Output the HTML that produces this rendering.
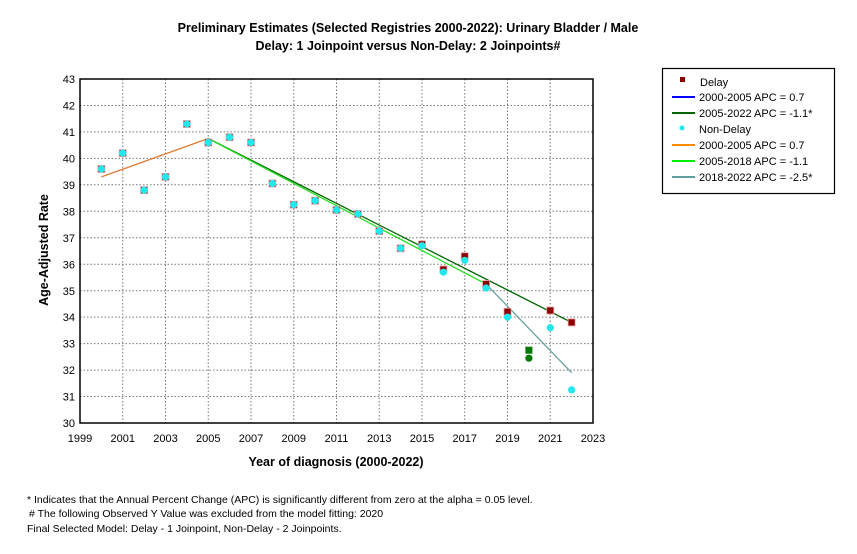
<!DOCTYPE html>
<html><head><meta charset="utf-8"><style>
body{margin:0;background:#fff}
svg{display:block;font-family:"Liberation Sans",sans-serif}
</style></head><body>
<svg width="857" height="554" viewBox="0 0 857 554">
<rect width="857" height="554" fill="#fff"/>
<text x="408" y="32" font-size="12.5" font-weight="bold" text-anchor="middle">Preliminary Estimates (Selected Registries 2000-2022): Urinary Bladder / Male</text>
<text x="408" y="50" font-size="12.5" font-weight="bold" text-anchor="middle">Delay: 1 Joinpoint  versus  Non-Delay: 2 Joinpoints#</text>
<g stroke="#777" stroke-width="1" stroke-dasharray="1.5,2">
<line x1="122.75" y1="79" x2="122.75" y2="423"/><line x1="165.5" y1="79" x2="165.5" y2="423"/><line x1="208.25" y1="79" x2="208.25" y2="423"/><line x1="251" y1="79" x2="251" y2="423"/><line x1="293.75" y1="79" x2="293.75" y2="423"/><line x1="336.5" y1="79" x2="336.5" y2="423"/><line x1="379.25" y1="79" x2="379.25" y2="423"/><line x1="422" y1="79" x2="422" y2="423"/><line x1="464.75" y1="79" x2="464.75" y2="423"/><line x1="507.5" y1="79" x2="507.5" y2="423"/><line x1="550.25" y1="79" x2="550.25" y2="423"/>
<line x1="80" y1="105.5" x2="593" y2="105.5"/><line x1="80" y1="131.9" x2="593" y2="131.9"/><line x1="80" y1="158.4" x2="593" y2="158.4"/><line x1="80" y1="184.8" x2="593" y2="184.8"/><line x1="80" y1="211.3" x2="593" y2="211.3"/><line x1="80" y1="237.8" x2="593" y2="237.8"/><line x1="80" y1="264.2" x2="593" y2="264.2"/><line x1="80" y1="290.7" x2="593" y2="290.7"/><line x1="80" y1="317.1" x2="593" y2="317.1"/><line x1="80" y1="343.6" x2="593" y2="343.6"/><line x1="80" y1="370.1" x2="593" y2="370.1"/><line x1="80" y1="396.5" x2="593" y2="396.5"/>
</g>
<rect x="80" y="79" width="513" height="344" fill="none" stroke="#000" stroke-width="1.5"/>
<g font-size="11" text-anchor="end">
<text x="75" y="83">43</text><text x="75" y="109.5">42</text><text x="75" y="136">41</text><text x="75" y="162.5">40</text><text x="75" y="189">39</text><text x="75" y="215.5">38</text><text x="75" y="242">37</text><text x="75" y="268.5">36</text><text x="75" y="295">35</text><text x="75" y="321">34</text><text x="75" y="347.5">33</text><text x="75" y="374">32</text><text x="75" y="400.5">31</text><text x="75" y="427">30</text>
</g>
<g font-size="11" text-anchor="middle">
<text x="80" y="442">1999</text><text x="122.75" y="442">2001</text><text x="165.5" y="442">2003</text><text x="208.25" y="442">2005</text><text x="251" y="442">2007</text><text x="293.75" y="442">2009</text><text x="336.5" y="442">2011</text><text x="379.25" y="442">2013</text><text x="422" y="442">2015</text><text x="464.75" y="442">2017</text><text x="507.5" y="442">2019</text><text x="550.25" y="442">2021</text><text x="593" y="442">2023</text>
</g>
<text x="336" y="466" font-size="12.5" font-weight="bold" text-anchor="middle">Year of diagnosis (2000-2022)</text>
<text transform="translate(48,250) rotate(-90)" font-size="12.5" font-weight="bold" text-anchor="middle">Age-Adjusted Rate</text>
<!-- lines -->
<line x1="101.4" y1="176.9" x2="208.25" y2="138.5" stroke="#e07a30" stroke-width="1.3"/>
<line x1="208.25" y1="138.5" x2="571.6" y2="322.4" stroke="#006400" stroke-width="1.3"/>
<line x1="208.25" y1="138.5" x2="486.1" y2="284.1" stroke="#22dd22" stroke-width="1.3"/>
<line x1="486.1" y1="284.1" x2="571.6" y2="372.7" stroke="#6aa0a0" stroke-width="1.3"/>
<!-- delay squares -->
<g fill="#8b0000" stroke="#e9a0a0" stroke-width="0.8">
<rect x="97.9" y="165.5" width="7" height="7"/><rect x="119.25" y="149.6" width="7" height="7"/><rect x="140.6" y="186.6" width="7" height="7"/><rect x="162" y="173.4" width="7" height="7"/><rect x="183.4" y="120.5" width="7" height="7"/><rect x="204.75" y="139" width="7" height="7"/><rect x="226.1" y="133.7" width="7" height="7"/><rect x="247.5" y="139" width="7" height="7"/><rect x="268.9" y="180" width="7" height="7"/><rect x="290.25" y="201.2" width="7" height="7"/><rect x="311.6" y="197.2" width="7" height="7"/><rect x="333" y="206.5" width="7" height="7"/><rect x="354.4" y="210.5" width="7" height="7"/><rect x="375.75" y="227.6" width="7" height="7"/><rect x="397.1" y="244.8" width="7" height="7"/><rect x="418.5" y="240.9" width="7" height="7"/><rect x="439.9" y="266" width="7" height="7"/><rect x="461.25" y="252.8" width="7" height="7"/><rect x="482.6" y="280.6" width="7" height="7"/><rect x="504" y="308.3" width="7" height="7"/><rect x="546.75" y="307" width="7" height="7"/><rect x="568.1" y="318.9" width="7" height="7"/>
</g>
<rect x="525.4" y="346.7" width="7" height="7" fill="#007a00"/>
<circle cx="528.9" cy="358.2" r="3.6" fill="#007a00"/>
<g fill="#22e8ee">
<circle cx="101.4" cy="169" r="3.6"/><circle cx="122.75" cy="153.1" r="3.6"/><circle cx="144.1" cy="190.1" r="3.6"/><circle cx="165.5" cy="176.9" r="3.6"/><circle cx="186.9" cy="124" r="3.6"/><circle cx="208.25" cy="142.5" r="3.6"/><circle cx="229.6" cy="137.2" r="3.6"/><circle cx="251" cy="142.5" r="3.6"/><circle cx="272.4" cy="183.5" r="3.6"/><circle cx="293.75" cy="204.7" r="3.6"/><circle cx="315.1" cy="200.7" r="3.6"/><circle cx="336.5" cy="210" r="3.6"/><circle cx="357.9" cy="214" r="3.6"/><circle cx="379.25" cy="231.1" r="3.6"/><circle cx="400.6" cy="248.3" r="3.6"/><circle cx="422" cy="245.7" r="3.6"/><circle cx="443.4" cy="272.2" r="3.6"/><circle cx="464.75" cy="260.3" r="3.6"/><circle cx="486.1" cy="288" r="3.6"/><circle cx="507.5" cy="317.1" r="3.6"/><circle cx="550.25" cy="327.7" r="3.6"/><circle cx="571.6" cy="389.9" r="3.6"/>
</g>
<!-- legend -->
<rect x="662.5" y="68.5" width="172" height="125" fill="#fff" stroke="#000" stroke-width="1.2"/>
<g font-size="11">
<rect x="680" y="77" width="5" height="5" fill="#8b0000"/><text x="700" y="86">Delay</text>
<line x1="672" y1="97" x2="695" y2="97" stroke="#0000ff" stroke-width="2"/><text x="699" y="101">2000-2005 APC  =  0.7</text>
<line x1="672" y1="113" x2="695" y2="113" stroke="#006400" stroke-width="2"/><text x="699" y="117">2005-2022 APC  = -1.1*</text>
<circle cx="682" cy="128" r="2.5" fill="#22e8ee"/><text x="699" y="133">Non-Delay</text>
<line x1="672" y1="145" x2="695" y2="145" stroke="#ff8c00" stroke-width="2"/><text x="699" y="149">2000-2005 APC  =  0.7</text>
<line x1="672" y1="161" x2="695" y2="161" stroke="#00ee00" stroke-width="2"/><text x="699" y="165">2005-2018 APC  = -1.1</text>
<line x1="672" y1="177" x2="695" y2="177" stroke="#5f9ea0" stroke-width="2"/><text x="699" y="181">2018-2022 APC  = -2.5*</text>
</g>
<g font-size="10.5">
<text x="27" y="503">* Indicates that the Annual Percent Change (APC) is significantly different from zero at the alpha = 0.05 level.</text>
<text x="29" y="517"># The following Observed Y Value was excluded from the model fitting: 2020</text>
<text x="27" y="532">Final Selected Model: Delay - 1 Joinpoint, Non-Delay - 2 Joinpoints.</text>
</g>
</svg>
</body></html>
